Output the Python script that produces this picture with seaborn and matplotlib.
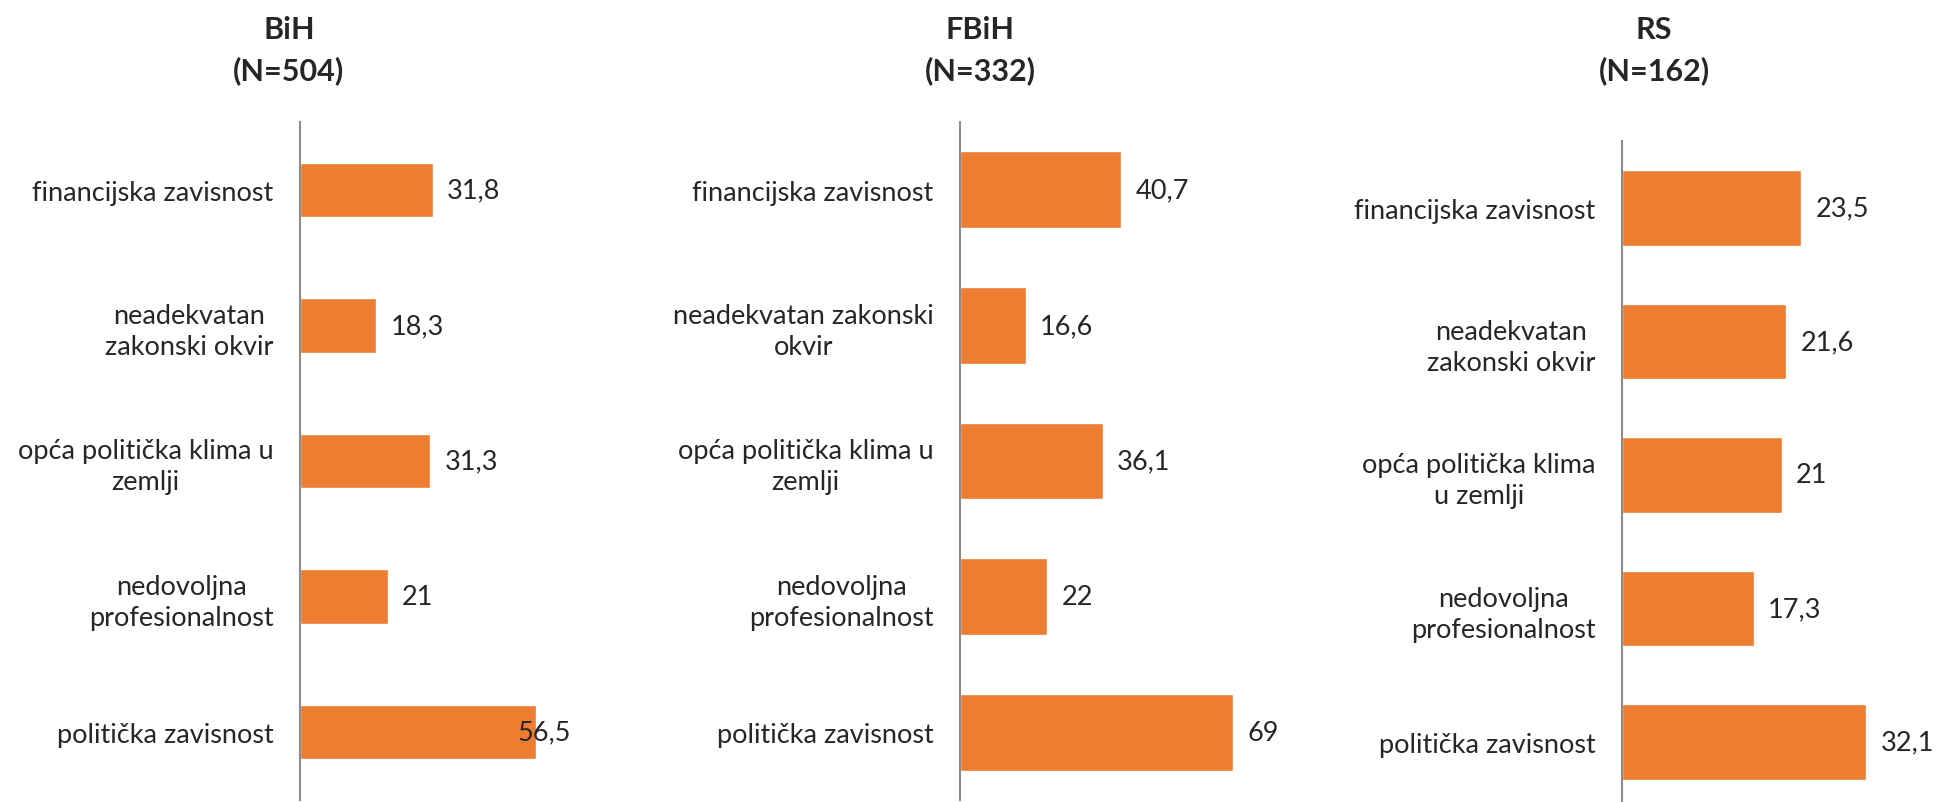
import matplotlib
matplotlib.use('Agg')
import matplotlib.pyplot as plt
import seaborn as sns

# data
categories_bih = ['financijska zavisnost', 'neadekvatan\nzakonski okvir',
                  'opća politička klima u\nzemlji', 'nedovoljna\nprofesionalnost',
                  'politička zavisnost']
categories_fbih = ['financijska zavisnost', 'neadekvatan zakonski\nokvir',
                   'opća politička klima u\nzemlji', 'nedovoljna\nprofesionalnost',
                   'politička zavisnost']
categories_rs = ['financijska zavisnost', 'neadekvatan\nzakonski okvir',
                 'opća politička klima\nu zemlji', 'nedovoljna\nprofesionalnost',
                 'politička zavisnost']

values_bih = [31.8, 18.3, 31.3, 21, 56.5]
values_fbih = [40.7, 16.6, 36.1, 22, 69]
values_rs = [23.5, 21.6, 21, 17.3, 32.1]

titles = ['BiH', 'FBiH', 'RS']
n_labels = ['(N=504)', '(N=332)', '(N=162)']

sns.set_style('white')
plt.rcParams['font.family'] = ['Lato', 'DejaVu Sans']

W, H = 1939, 803
fig = plt.figure(figsize=(W / 100, H / 100), dpi=100)

orange = '#ED7D31'

# (left px, right px, top px, bottom px, xmax, bar width, title x px)
panels = [
    (categories_bih, values_bih, 300, 571, 123, 801, 65, 0.40, 289),
    (categories_fbih, values_fbih, 960, 1276, 123, 801, 80, 0.565, 980),
    (categories_rs, values_rs, 1622, 1936, 142, 810, 41.3, 0.565, 1654),
]

for i, (cats, vals, l, r, t, b, xmax, bw, tx) in enumerate(panels):
    ax = fig.add_axes([l / W, (H - b) / H, (r - l) / W, (b - t) / H])
    sns.barplot(x=vals, y=cats, ax=ax, color=orange, width=bw, saturation=1)
    ax.set_xlim(0, xmax)
    ax.set_xticks([])
    ax.set_xlabel('')
    ax.set_ylabel('')
    for s in ['top', 'right', 'bottom']:
        ax.spines[s].set_visible(False)
    ax.spines['left'].set_color('#8C8C8C')
    ax.spines['left'].set_linewidth(1.5)
    ax.tick_params(axis='y', length=0, pad=19, labelsize=19.5)
    for lab in ax.get_yticklabels():
        lab.set_multialignment('center')
        lab.set_linespacing(1.3)
    for j, v in enumerate(vals):
        txt = f'{v:g}'.replace('.', ',')
        if v / xmax > 0.8 and i == 0:
            # label pushed back inside the plot area
            ax.text(xmax, j, txt, ha='right', va='center', fontsize=19.5, clip_on=False)
        else:
            ax.annotate(txt, (v, j), xytext=(10.5, 0), textcoords='offset points',
                        ha='left', va='center', fontsize=19.5, annotation_clip=False)
    fig.text(tx / W, 1 - 30 / H, titles[i], ha='center', va='center',
             fontsize=22, fontweight='bold')
    fig.text(tx / W, 1 - 71 / H, n_labels[i], ha='center', va='center',
             fontsize=22, fontweight='bold')

fig.savefig('out.png', dpi=100)
